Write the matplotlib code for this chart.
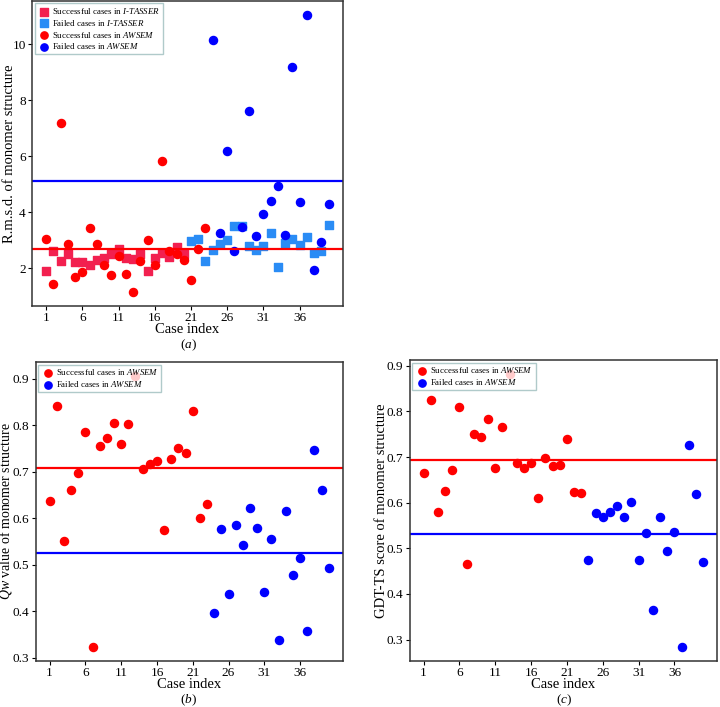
import numpy as np
import matplotlib
matplotlib.use("Agg")
import matplotlib.pyplot as plt

plt.rcParams["font.family"] = ["Liberation Serif", "DejaVu Serif"]
plt.rcParams["mathtext.fontset"] = "custom"
plt.rcParams["mathtext.rm"] = "Liberation Serif"
plt.rcParams["mathtext.it"] = "Liberation Serif:italic"

# ── Data ─────────────────────────────────────────────────────────────────────
cases = np.arange(1, 41)
ITASSER_OK = 20          # cases 1..20 succeed with I-TASSER
AWSEM_OK = 23            # cases 1..23 succeed with AWSEM

rmsd_itasser = [1.90, 2.63, 2.26, 2.52, 2.24, 2.24, 2.12, 2.31, 2.37, 2.51,
                2.71, 2.37, 2.33, 2.51, 1.92, 2.37, 2.56, 2.42, 2.75, 2.52,
                2.98, 3.05, 2.27, 2.65, 2.88, 3.00, 3.50, 3.52, 2.80, 2.67,
                2.81, 3.25, 2.06, 2.89, 3.06, 2.82, 3.11, 2.54, 2.62, 3.56]
rmsd_awsem = [3.04, 1.46, 7.18, 2.86, 1.68, 1.87, 3.43, 2.88, 2.14, 1.77,
              2.46, 1.81, 1.15, 2.25, 3.02, 2.11, 5.83, 2.62, 2.50, 2.30,
              1.60, 2.69, 3.44, 10.17, 3.27, 6.18, 2.64, 3.48, 7.61, 3.15,
              3.93, 4.39, 4.93, 3.18, 9.19, 4.37, 11.06, 1.93, 2.95, 4.31]
qw_awsem = [0.638, 0.842, 0.551, 0.660, 0.698, 0.785, 0.322, 0.756, 0.773, 0.804,
            0.759, 0.803, 0.907, 0.707, 0.717, 0.724, 0.574, 0.728, 0.752, 0.740,
            0.831, 0.601, 0.630, 0.396, 0.577, 0.436, 0.586, 0.543, 0.621, 0.579,
            0.441, 0.556, 0.339, 0.616, 0.478, 0.515, 0.357, 0.746, 0.660, 0.493]
gdt_awsem = [0.664, 0.826, 0.580, 0.625, 0.672, 0.810, 0.466, 0.751, 0.745, 0.783,
             0.677, 0.766, 0.883, 0.688, 0.675, 0.688, 0.611, 0.699, 0.680, 0.682,
             0.739, 0.623, 0.621, 0.475, 0.578, 0.569, 0.580, 0.592, 0.569, 0.602,
             0.474, 0.533, 0.365, 0.569, 0.494, 0.536, 0.283, 0.727, 0.620, 0.469]

# horizontal reference lines (successful / failed)
rmsd_lines = (2.70, 5.11)
qw_lines = (0.709, 0.526)
gdt_lines = (0.694, 0.531)

xticks = list(range(1, 41, 5))

C_OK, C_FAIL = "#ff0000", "#0000ff"
C_IT_OK, C_IT_FAIL = "#f2204f", "#2a8cf5"
ITAS = r"$\mathit{I}$-$\mathit{TASSER}$"
AWS = r"$\mathit{AWSEM}$"


def style(ax, ylabel, ylab_x, xlab_y, ylab_size=10.5):
    ax.set_xticks(xticks)
    ax.tick_params(labelsize=9.5, pad=1.5, length=3)
    ax.set_xlabel("Case index", fontsize=10.5)
    ax.set_ylabel(ylabel, fontsize=ylab_size)
    ax.xaxis.set_label_coords(0.5, xlab_y)
    ax.yaxis.set_label_coords(ylab_x, 0.5)
    for s in ax.spines.values():
        s.set_color("#333333")
        s.set_linewidth(1.1)


def awsem_scatter(ax, vals, lines):
    vals = np.asarray(vals)
    ok = cases <= AWSEM_OK
    ax.scatter(cases[ok], vals[ok], s=34, marker="o", color=C_OK,
               label="Successful cases in " + AWS)
    ax.scatter(cases[~ok], vals[~ok], s=34, marker="o", color=C_FAIL,
               label="Failed cases in " + AWS)
    ax.axhline(lines[0], color=C_OK, lw=1.6)
    ax.axhline(lines[1], color=C_FAIL, lw=1.6)


fig = plt.figure(figsize=(7.2, 7.07), dpi=100)
ax_a = fig.add_axes([0.0445, 0.567, 0.4315, 0.432])
ax_b = fig.add_axes([0.0495, 0.065, 0.4265, 0.423])
ax_c = fig.add_axes([0.569, 0.065, 0.427, 0.426])

# ── (a) r.m.s.d. ─────────────────────────────────────────────────────────────
it = np.asarray(rmsd_itasser)
ok = cases <= ITASSER_OK
ax_a.scatter(cases[ok], it[ok], s=32, marker="s", color=C_IT_OK,
             label="Successful cases in " + ITAS)
ax_a.scatter(cases[~ok], it[~ok], s=32, marker="s", color=C_IT_FAIL,
             label="Failed cases in " + ITAS)
awsem_scatter(ax_a, rmsd_awsem, rmsd_lines)
style(ax_a, "R.m.s.d. of monomer structure", -0.0515, -0.055)

# ── (b) Qw ───────────────────────────────────────────────────────────────────
awsem_scatter(ax_b, qw_awsem, qw_lines)
style(ax_b, r"$\mathit{Qw}$ value of monomer structure", -0.069, -0.057,
      ylab_size=10)

# ── (c) GDT-TS ───────────────────────────────────────────────────────────────
awsem_scatter(ax_c, gdt_awsem, gdt_lines)
style(ax_c, "GDT-TS score of monomer structure", -0.07, -0.057)

for ax in (ax_a, ax_b, ax_c):
    leg = ax.legend(loc="upper left", fontsize=6.4, framealpha=0.8,
                    fancybox=False, borderaxespad=0.3, handletextpad=0.2,
                    borderpad=0.3, labelspacing=0.2, handlelength=1.5,
                    markerscale=0.9)
    leg.get_frame().set_edgecolor("#9dbdbd")

fig.text(0.262, 0.512, r"($\mathit{a}$)", ha="center", va="center", fontsize=9.5)
fig.text(0.262, 0.010, r"($\mathit{b}$)", ha="center", va="center", fontsize=9.5)
fig.text(0.783, 0.010, r"($\mathit{c}$)", ha="center", va="center", fontsize=9.5)

fig.savefig("out.png", dpi=100)
